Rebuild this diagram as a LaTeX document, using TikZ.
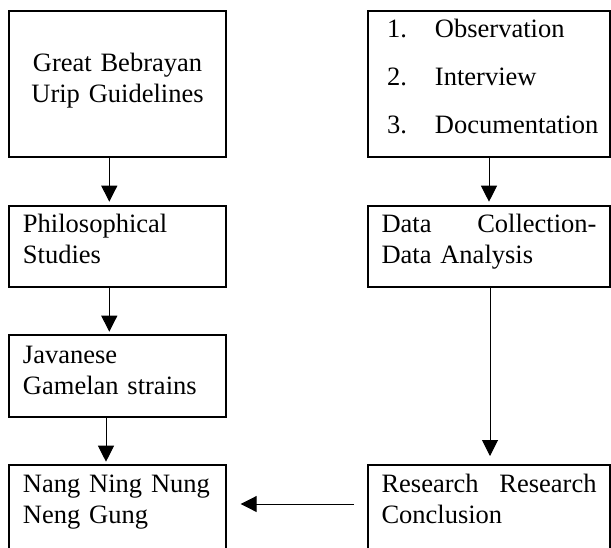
\documentclass[tikz,border=0pt]{standalone}
\usepackage{fontspec}
\setmainfont{Liberation Serif}
\usetikzlibrary{arrows.meta}

\begin{document}
\begin{tikzpicture}[x=1pt,y=-1pt,
  stage/.style={draw, line width=2pt, outer sep=0pt, inner ysep=0pt, anchor=north west, align=left,
    font=\fontsize{26.5}{31}\selectfont},
  leftcol/.style={stage, inner xsep=14pt, text width=189pt},
  rightcol/.style={stage, inner xsep=13.5pt, text width=215pt},
  flow/.style={-{Triangle[width=16pt,length=16pt]}, line width=1pt}]
\useasboundingbox (0,0) rectangle (611,547);
\clip (0,0) rectangle (611,547);

% left column
\node [leftcol, align=center, text height=60pt, text depth=85.5pt] (guide) at (9,11) {Great Bebrayan\\Urip Guidelines};
\node [leftcol, text height=26.5pt, text depth=55pt] (philo) at (9,205.5) {Philosophical\\Studies};
\node [leftcol, text height=28.5pt, text depth=54pt] (gamelan) at (9,334.5) {Javanese\\Gamelan strains};
\node [leftcol, text height=27.5pt, text depth=60pt] (nang) at (9,464.5) {Nang Ning Nung\\Neng Gung};

% right column
\node [rightcol, text height=26pt, text depth=119.5pt] (method) at (368,11)
  {\hspace*{5.5pt}\makebox[48pt][l]{1.}Observation\\[17pt]
   \hspace*{5.5pt}\makebox[48pt][l]{2.}Interview\\[17pt]
   \hspace*{5.5pt}\makebox[48pt][l]{3.}Documentation};
\node [rightcol, text height=26.5pt, text depth=55pt] (data) at (368,205.5) {Data\hfill Collection-\\Data Analysis};
\node [rightcol, text height=27.5pt, text depth=60pt] (concl) at (368,464.5) {Research\hfill Research\\Conclusion};

% arrows
\draw [flow, shorten >=3.8pt] ([xshift=-8.2pt]guide.south) -- ([xshift=-8.2pt]philo.north);
\draw [flow, shorten >=2.8pt] ([xshift=-8.2pt]philo.south) -- ([xshift=-8.2pt]gamelan.north);
\draw [flow, shorten >=2.8pt] ([xshift=-11.5pt]gamelan.south) -- ([xshift=-11.5pt]nang.north);
\draw [flow, shorten >=3.8pt] (method.south) -- (data.north);
\draw [flow, shorten >=8.5pt] ([xshift=1pt]data.south) -- ([xshift=1pt]concl.north);
\draw [flow, shorten <=14pt, shorten >=14.7pt] ([yshift=4.25pt]concl.west) -- ([yshift=4.25pt]concl.west -| nang.east);

\end{tikzpicture}
\end{document}
